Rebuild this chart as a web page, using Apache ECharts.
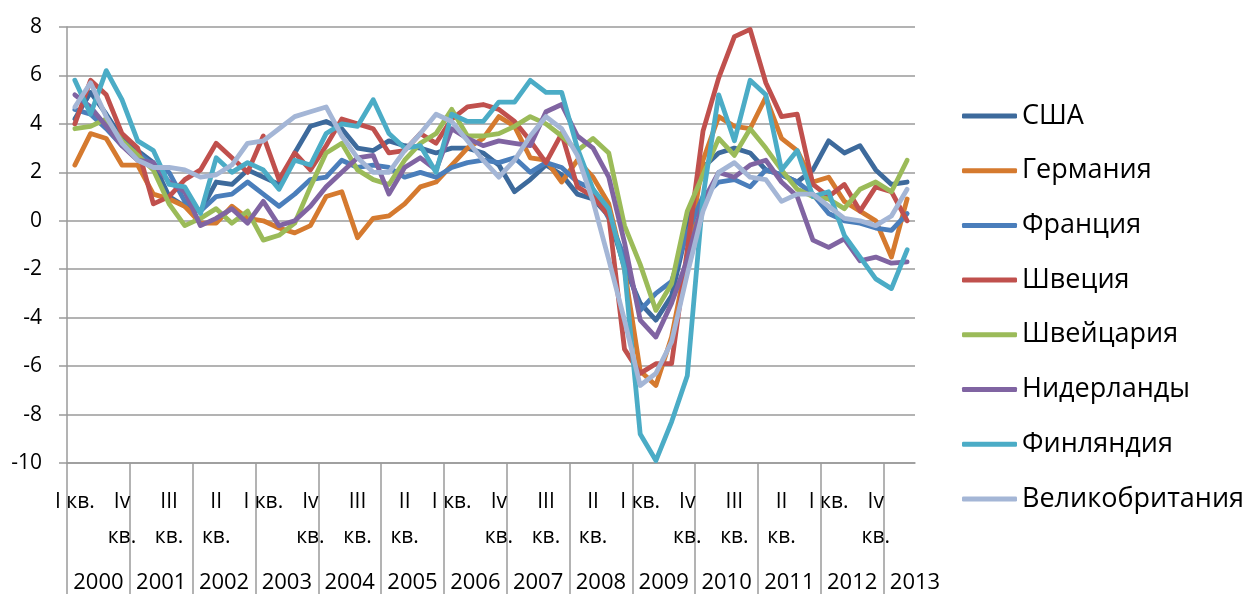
<!DOCTYPE html>
<html>
<head>
<meta charset="utf-8">
<script src="https://cdn.jsdelivr.net/npm/echarts@6/dist/echarts.min.js"></script>
<style>
  html, body { margin: 0; padding: 0; background: #ffffff; }
  #chart { width: 1247px; height: 594px; }
</style>
</head>
<body>
<div id="chart"></div>
<script>
// Quarterly GDP growth, % year on year, 2000 Q1 – 2013 Q2
const years = [2000, 2001, 2002, 2003, 2004, 2005, 2006, 2007, 2008, 2009, 2010, 2011, 2012, 2013];
const quarterNames = ['I кв.', 'II кв.', 'III кв.', 'Iv кв.'];
const quartersInLastYear = 2;

const usa = [4.2, 5.3, 4.4, 3.4, 2.9, 2.4, 1.0, 0.6, 0.4, 1.6, 1.5, 2.1, 1.8, 1.5, 2.8, 3.9, 4.1, 3.8,
  3.0, 2.9, 3.3, 3.1, 3.0, 2.8, 3.0, 3.0, 2.8, 2.3, 1.2, 1.7, 2.3, 1.9, 1.1, 0.9, 0.2, -1.9,
  -3.4, -4.1, -3.1, -0.3, 2.2, 2.8, 3.0, 2.8, 2.1, 1.9, 1.6, 2.1, 3.3, 2.8, 3.1, 2.1, 1.5, 1.6];
const germany = [2.3, 3.6, 3.4, 2.3, 2.3, 1.1, 0.9, 0.6, -0.1, -0.1, 0.6, 0.1, 0.0, -0.3, -0.5, -0.2, 1.0, 1.2,
  -0.7, 0.1, 0.2, 0.7, 1.4, 1.6, 2.3, 3.0, 3.4, 4.3, 3.9, 2.6, 2.5, 1.6, 2.5, 1.8, 0.7, -2.0,
  -6.2, -6.8, -4.8, -1.5, 2.5, 4.3, 3.9, 3.8, 5.1, 3.4, 2.9, 1.6, 1.8, 0.8, 0.4, 0.0, -1.5, 0.9];
const france = [4.6, 4.4, 3.8, 3.1, 2.8, 2.3, 2.0, 0.8, 0.4, 1.0, 1.1, 1.6, 1.1, 0.6, 1.1, 1.7, 1.8, 2.5,
  2.2, 2.3, 2.2, 1.8, 2.0, 1.8, 2.2, 2.4, 2.5, 2.4, 2.6, 2.0, 2.4, 2.2, 1.6, 1.3, 0.1, -1.5,
  -3.7, -3.0, -2.5, -0.5, 1.0, 1.6, 1.7, 1.4, 2.1, 1.9, 1.6, 1.1, 0.3, 0.0, -0.1, -0.3, -0.4, 0.3];
const sweden = [4.0, 5.8, 5.2, 3.6, 3.0, 0.7, 1.0, 1.7, 2.1, 3.2, 2.6, 2.0, 3.5, 1.7, 2.8, 2.1, 3.1, 4.2,
  4.0, 3.8, 2.8, 2.9, 3.6, 3.2, 4.2, 4.7, 4.8, 4.6, 4.1, 3.3, 2.4, 3.6, 1.4, 1.0, 0.2, -5.3,
  -6.3, -5.9, -5.9, -1.2, 3.7, 5.9, 7.6, 7.9, 5.7, 4.3, 4.4, 1.5, 1.0, 1.5, 0.4, 1.4, 1.2, 0.0];
const switzerland = [3.8, 3.9, 4.2, 3.3, 2.7, 2.1, 0.7, -0.2, 0.1, 0.5, -0.1, 0.4, -0.8, -0.6, -0.1, 1.4, 2.8, 3.2,
  2.1, 1.7, 1.5, 2.5, 3.2, 3.6, 4.6, 3.5, 3.5, 3.6, 3.9, 4.3, 4.0, 3.5, 2.9, 3.4, 2.8, -0.2,
  -1.8, -3.7, -2.6, 0.4, 1.9, 3.4, 2.7, 3.8, 3.0, 2.1, 1.3, 1.0, 0.9, 0.5, 1.3, 1.6, 1.2, 2.5];
const netherlands = [5.2, 4.7, 3.9, 3.1, 2.5, 2.4, 1.6, 1.2, -0.2, 0.1, 0.5, -0.1, 0.8, -0.2, 0.0, 0.6, 1.4, 2.0,
  2.6, 2.7, 1.1, 2.2, 2.6, 2.1, 3.8, 3.4, 3.1, 3.3, 3.2, 3.1, 4.5, 4.8, 3.5, 3.0, 1.8, -0.9,
  -4.1, -4.8, -3.4, -1.6, 0.8, 2.0, 1.8, 2.3, 2.5, 1.6, 1.0, -0.8, -1.1, -0.75, -1.65, -1.5, -1.75, -1.7];
const finland = [5.8, 4.4, 6.2, 5.0, 3.3, 2.9, 1.5, 1.4, 0.3, 2.6, 2.0, 2.4, 2.1, 1.3, 2.5, 2.3, 3.6, 4.0,
  3.9, 5.0, 3.6, 3.0, 3.1, 2.0, 4.4, 4.1, 4.1, 4.9, 4.9, 5.8, 5.3, 5.3, 3.0, 1.3, 0.5, -2.0,
  -8.8, -9.9, -8.3, -6.4, 1.0, 5.2, 3.3, 5.8, 5.2, 2.1, 2.9, 1.0, 1.2, -0.6, -1.5, -2.4, -2.8, -1.2];
const uk = [4.7, 5.7, 4.3, 3.2, 2.5, 2.2, 2.2, 2.1, 1.8, 1.9, 2.3, 3.2, 3.3, 3.8, 4.3, 4.5, 4.7, 3.5,
  2.6, 2.0, 2.0, 2.9, 3.6, 4.4, 4.1, 3.3, 2.5, 1.8, 2.5, 3.5, 4.3, 3.8, 2.7, 0.8, -1.6, -4.1,
  -6.8, -6.3, -5.0, -2.2, 0.4, 2.0, 2.4, 1.8, 1.7, 0.8, 1.1, 1.1, 0.6, 0.1, 0.0, -0.2, 0.2, 1.3];

const seriesDefs = [
  { name: 'США', data: usa, color: '#3d6a9c' },
  { name: 'Германия', data: germany, color: '#d57a2f' },
  { name: 'Франция', data: france, color: '#4a7ebb' },
  { name: 'Швеция', data: sweden, color: '#c0504d' },
  { name: 'Швейцария', data: switzerland, color: '#9bbb59' },
  { name: 'Нидерланды', data: netherlands, color: '#8064a2' },
  { name: 'Финляндия', data: finland, color: '#4bacc6' },
  { name: 'Великобритания', data: uk, color: '#a4b6d6' }
];

// Quarter row: one category per data point
const quarterCats = [];
years.forEach((y, yi) => {
  const n = yi === years.length - 1 ? quartersInLastYear : 4;
  for (let q = 0; q < n; q++) quarterCats.push(quarterNames[q]);
});

// Year row: a value axis measured in quarters, shifted so that
// value 4k is the middle of year k and 4k - 2 is its left border
const yearMid = years.map((y, k) => 4 * k);
const yearBorder = years.map((y, k) => 4 * k - 2);

const FONT = '"Open Sans", "Noto Sans", sans-serif';
const GRID_COLOR = '#9a9a9a';
const plotLeft = 67, plotRight = 915, plotTop = 27, plotBottom = 463;

const chart = echarts.init(document.getElementById('chart'), null, { renderer: 'canvas' });

chart.setOption({
  backgroundColor: '#ffffff',
  animation: false,
  textStyle: { fontFamily: FONT },
  grid: {
    left: plotLeft, right: 1247 - plotRight, top: plotTop, bottom: 594 - plotBottom,
    containLabel: false, outerBoundsMode: 'none'
  },
  legend: {
    orient: 'vertical',
    left: 962,
    top: 101,
    padding: 0,
    itemWidth: 55,
    itemHeight: 5,
    itemGap: 24.7,
    icon: 'roundRect',
    textStyle: { fontFamily: FONT, fontSize: 27, color: '#000', lineHeight: 30 },
    data: seriesDefs.map(s => s.name)
  },
  xAxis: [
    {
      type: 'category',
      data: quarterCats,
      position: 'bottom',
      boundaryGap: true,
      axisLine: { show: true, onZero: false, lineStyle: { color: GRID_COLOR, width: 1.5 } },
      axisTick: { show: false },
      axisLabel: {
        interval: 2,
        margin: 22,
        fontFamily: FONT,
        fontSize: 21,
        color: '#000',
        lineHeight: 35,
        formatter: v => (v === quarterNames[0] ? v : v.replace(' ', '\n'))
      },
      splitLine: { show: false }
    },
    {
      type: 'value',
      position: 'bottom',
      min: -2,
      max: quarterCats.length - 2,
      axisLine: { show: false, onZero: false },
      axisTick: {
        show: true,
        length: 131,
        customValues: yearBorder,
        lineStyle: { color: GRID_COLOR, width: 1.5 }
      },
      axisLabel: {
        customValues: yearMid,
        margin: 110,
        fontFamily: FONT,
        fontSize: 22,
        color: '#000',
        lineHeight: 20,
        formatter: v => String(years[Math.round(v / 4)])
      },
      splitLine: { show: false }
    }
  ],
  yAxis: {
    type: 'value',
    min: -10,
    max: 8,
    interval: 2,
    axisLine: { show: true, onZero: false, lineStyle: { color: GRID_COLOR, width: 1.5 } },
    axisTick: { show: true, length: 8, lineStyle: { color: GRID_COLOR, width: 1.5 } },
    axisLabel: { margin: 25, fontFamily: FONT, fontSize: 21, color: '#000' },
    splitLine: { show: true, lineStyle: { color: GRID_COLOR, width: 1.5 } }
  },
  series: seriesDefs.map(s => ({
    name: s.name,
    type: 'line',
    xAxisIndex: 0,
    data: s.data,
    symbol: 'none',
    showSymbol: false,
    color: s.color,
    lineStyle: { color: s.color, width: 4.8, cap: 'round', join: 'round' },
    emphasis: { disabled: true }
  }))
});
</script>
</body>
</html>
